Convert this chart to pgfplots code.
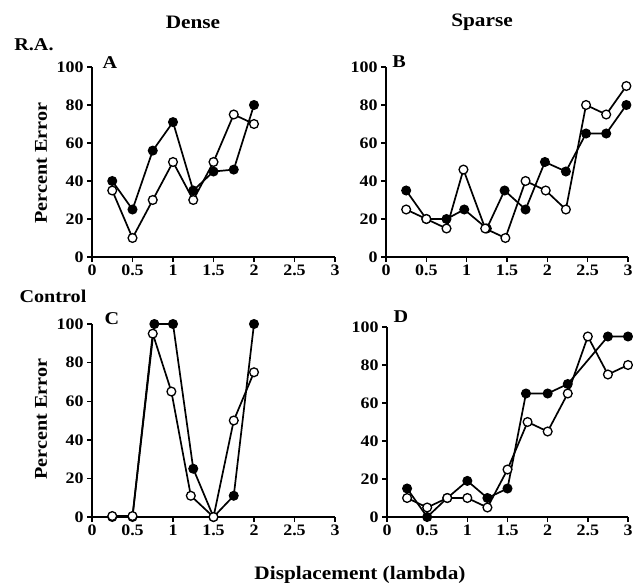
\documentclass[border=0pt]{standalone}
\usepackage{fontspec}
\setmainfont{Liberation Serif}[FakeStretch=1.12]
\usepackage{pgfplots}
\pgfplotsset{compat=1.18}
\pgfplotsset{
  panel/.style={
    scale only axis, anchor=south west,
    xmin=0, xmax=3, ymin=0, ymax=100,
    axis lines=left, axis line style={-, line width=1.4pt},
    tick align=outside, major tick length=5pt,
    tick style={line width=1.4pt, black},
    xtick={0,0.5,1,1.5,2,2.5,3}, xticklabels={0,0.5,1,1.5,2,2.5,3},
    ytick={0,20,40,60,80,100}, yticklabels={0,20,40,60,80,100},
    /pgf/number format/assume math mode=true,
    ticklabel style={font=\bfseries\fontsize{16}{16}\selectfont},
    xticklabel style={yshift=1pt},
    clip=false,
  },
  filled/.style={black, line width=1.7pt, mark=*, mark size=4.4pt, mark options={solid, fill=black, line width=1.2pt}},
  open/.style={black, line width=1.7pt, mark=*, mark size=4.4pt, mark options={solid, fill=white, line width=1.3pt}},
}
\begin{document}
\begin{tikzpicture}[x=1pt,y=1pt]
\path[use as bounding box] (0,0) rectangle (633,-583);
% Panel A
\begin{axis}[panel, at={(92pt,-257pt)}, width=243pt, height=190pt]
\addplot[filled] coordinates {(0.25,40) (0.5,25) (0.75,56) (1,71) (1.25,35) (1.5,45) (1.75,46) (2,80)};
\addplot[open] coordinates {(0.25,35) (0.5,10) (0.75,30) (1,50) (1.25,30) (1.5,50) (1.75,75) (2,70)};
\end{axis}
% Panel B
\begin{axis}[panel, at={(386pt,-257pt)}, width=242pt, height=190pt]
\addplot[filled] coordinates {(0.25,35) (0.5,20) (0.75,20) (0.97,25) (1.25,15) (1.47,35) (1.73,25) (1.97,50) (2.23,45) (2.48,65) (2.73,65) (2.98,80)};
\addplot[open] coordinates {(0.25,25) (0.5,20) (0.75,15) (0.96,46) (1.23,15) (1.48,10) (1.73,40) (1.98,35) (2.23,25) (2.48,80) (2.73,75) (2.98,90)};
\end{axis}
% Panel C
\begin{axis}[panel, at={(92pt,-517pt)}, width=243pt, height=193pt]
\addplot[filled] coordinates {(0.25,0) (0.5,0) (0.77,100) (1,100) (1.25,25) (1.5,0) (1.75,11) (2,100)};
\addplot[open] coordinates {(0.25,0.5) (0.5,0.5) (0.75,95) (0.98,65) (1.22,11) (1.5,0) (1.75,50) (2,75)};
\end{axis}
% Panel D
\begin{axis}[panel, at={(387pt,-517pt)}, width=241pt, height=190pt]
\addplot[filled] coordinates {(0.25,15) (0.5,0) (0.75,10) (1,19) (1.25,10) (1.5,15) (1.73,65) (2,65) (2.25,70) (2.75,95) (3,95)};
\addplot[open] coordinates {(0.25,10) (0.5,5) (0.75,10) (1,10) (1.25,5) (1.5,25) (1.75,50) (2,45) (2.25,65) (2.5,95) (2.75,75) (3,80)};
\end{axis}
% texts
\node[font=\bfseries\fontsize{19}{19}\selectfont] at (193,-22) {Dense};
\node[font=\bfseries\fontsize{19}{19}\selectfont] at (482,-22) {Sparse};
\node[font=\bfseries\fontsize{18}{18}\selectfont] at (34,-45) {R.A.};
\node[font=\bfseries\fontsize{18}{18}\selectfont] at (53,-296) {Control};
\node[font=\bfseries\fontsize{18}{18}\selectfont] at (110,-63) {A};
\node[font=\bfseries\fontsize{18}{18}\selectfont] at (399,-62) {B};
\node[font=\bfseries\fontsize{18}{18}\selectfont] at (112,-319) {C};
\node[font=\bfseries\fontsize{18}{18}\selectfont] at (401,-317) {D};
\node[rotate=90, font=\bfseries\fontsize{18}{18}\selectfont] at (41,-163) {Percent Error};
\node[rotate=90, font=\bfseries\fontsize{18}{18}\selectfont] at (41,-419) {Percent Error};
\node[font=\bfseries\fontsize{19}{19}\selectfont] at (360,-575) {Displacement (lambda)};
\end{tikzpicture}
\end{document}
